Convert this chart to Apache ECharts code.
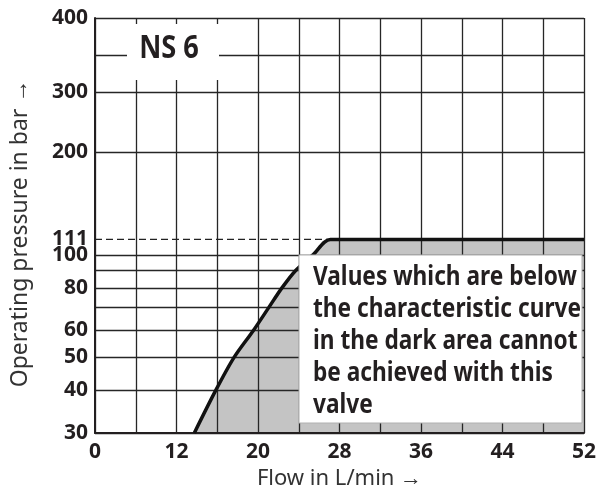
<!DOCTYPE html>
<html>
<head>
<meta charset="utf-8">
<script src="https://cdn.jsdelivr.net/npm/echarts@6/dist/echarts.min.js"></script>
<style>
  html, body { margin: 0; padding: 0; background: #fff; }
  #chart { width: 599px; height: 493px; }
</style>
</head>
<body>
<div id="chart"></div>
<script>
// flow positions of the vertical grid lines (L/min), labels on every other one
const flowGrid = [0, 6, 12, 16, 20, 24, 28, 32, 36, 40, 44, 48, 52]
// pressure grid lines and labels (bar)
const pressureGrid = [30, 40, 50, 60, 70, 80, 90, 100, 200, 300, 350, 400]
const pressureLabels = [30, 40, 50, 60, 80, 100, 111, 200, 300, 400]

// characteristic curve: [flow L/min, pressure bar]
const curveFlow = [13.75, 15.85, 17.65, 19.55, 21.05, 22.35, 23.7, 25.4, 27.1, 52]
const curvePressure = [30, 40, 50, 60, 70, 80, 90, 100, 111, 111]

// dashed limit line at 111 bar
const limitFlow = [0, 27.1]
const limitPressure = [111, 111]

const noteLines = [
  'Values which are below',
  'the characteristic curve',
  'in the dark area cannot',
  'be achieved with this',
  'valve'
]

const FONT = '"Noto Sans", sans-serif'
const INK = '#231f20'

// x scale: grid lines evenly spaced (0-12 is one double step)
const px = (f) => (f <= 12 ? f / 6 : 2 + (f - 12) / 4)
// y scale: log up to 300 bar, stretched linear above
const LOG300 = Math.log10(300)
const py = (p) => (p <= 300 ? Math.log10(p) : LOG300 + (p - 300) * 0.00218)

const labelOf = (v) => {
  const hit = pressureLabels.find((p) => Math.abs(py(p) - v) < 1e-6)
  return hit === undefined ? '' : String(hit)
}

const curveData = curveFlow.map((f, i) => [px(f), py(curvePressure[i])])

const chart = echarts.init(document.getElementById('chart'))

const option = {
  backgroundColor: '#fff',
  animation: false,
  grid: { left: 95, right: 15, top: 18, bottom: 60, outerBoundsMode: 'none', containLabel: false },
  xAxis: {
    type: 'value',
    min: 0,
    max: 12,
    interval: 1,
    z: 3,
    name: 'Flow in L/min \u2192',
    nameLocation: 'middle',
    nameGap: 32,
    nameTextStyle: { fontFamily: FONT, fontSize: 22, color: '#333' },
    axisLine: { lineStyle: { color: INK, width: 2 } },
    axisTick: { show: false },
    axisLabel: {
      margin: 9,
      fontFamily: FONT,
      fontWeight: 'bold',
      fontSize: 21,
      color: INK,
      formatter: (v) => (v % 2 === 0 ? String(flowGrid[v]) : '')
    },
    splitLine: { show: true, lineStyle: { color: '#262626', width: 1.3 } }
  },
  yAxis: {
    type: 'value',
    min: py(30),
    max: py(400),
    z: 3,
    name: 'Operating pressure in bar \u2192',
    nameLocation: 'middle',
    nameGap: 63,
    nameRotate: 90,
    nameTextStyle: { fontFamily: FONT, fontSize: 23, color: '#333', padding: [0, 16, 0, 0] },
    axisLine: { show: true, lineStyle: { color: INK, width: 2 } },
    axisTick: { show: false, customValues: pressureGrid.map(py) },
    axisLabel: {
      margin: 7,
      fontFamily: FONT,
      fontWeight: 'bold',
      fontSize: 21,
      color: INK,
      customValues: pressureLabels.map(py),
      formatter: labelOf
    },
    splitLine: { show: true, lineStyle: { color: '#262626', width: 1.3 } }
  },
  series: [
    {
      type: 'line',
      z: 1,
      symbol: 'none',
      silent: true,
      smooth: 0.3,
      data: curveData,
      lineStyle: { width: 0 },
      areaStyle: { color: '#c4c4c4', opacity: 1, origin: 'start' }
    },
    {
      type: 'line',
      z: 5,
      symbol: 'none',
      smooth: 0.3,
      data: curveData,
      lineStyle: { color: '#111', width: 3.5 }
    },
    {
      type: 'line',
      z: 4,
      symbol: 'none',
      data: limitFlow.map((f, i) => [px(f), py(limitPressure[i])]),
      lineStyle: { color: '#222', width: 1.3, type: [7, 4] }
    }
  ],
  graphic: [
    {
      type: 'rect',
      z: 10,
      shape: { x: 127, y: 24, width: 92, height: 56 },
      style: { fill: '#fff' }
    },
    {
      type: 'text',
      z: 11,
      x: 169,
      y: 49,
      scaleX: 0.85,
      style: {
        text: 'NS 6',
        font: 'bold 32px ' + FONT,
        fill: INK,
        align: 'center',
        verticalAlign: 'middle'
      }
    },
    {
      type: 'rect',
      z: 10,
      shape: { x: 299, y: 255, width: 283, height: 168 },
      style: { fill: '#fff', stroke: '#b0b0b0', lineWidth: 1 }
    },
    {
      type: 'text',
      z: 11,
      x: 313,
      y: 261,
      scaleX: 0.84,
      style: {
        text: noteLines.join('\n'),
        font: 'bold 27px ' + FONT,
        lineHeight: 32,
        fill: INK,
        align: 'left',
        verticalAlign: 'top'
      }
    }
  ]
}

chart.setOption(option)
</script>
</body>
</html>
